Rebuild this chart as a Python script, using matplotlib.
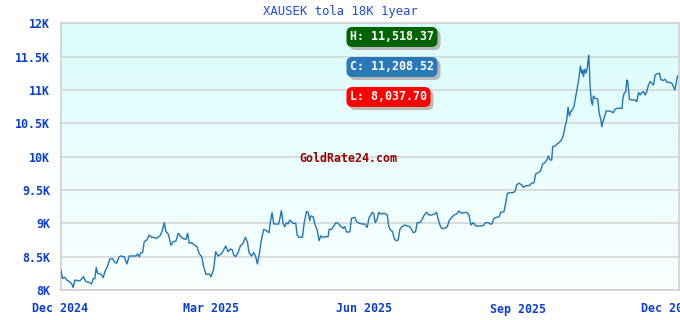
import numpy as np
import matplotlib
matplotlib.use("Agg")
import matplotlib.pyplot as plt

# jours depuis le 1er dec 2024
days = [0.2, 1.2, 2.6, 3.8, 5.2, 6.6, 7.6, 8.6, 10.2, 11.8, 13.8, 15.2, 17.2, 18.6, 19.6, 20.6,
        21.4, 22.2, 24.2, 25.6, 26.6, 28.2, 29.6, 31.2, 32.2, 33.6, 35.2, 36.2, 38.2, 39.8, 41.2,
        43.2, 45.2, 46.2, 47.2, 48.2, 49.2, 50.2, 51.8, 53.2, 54.6, 56.2, 57.2, 58.2, 59.6, 60.8,
        62.2, 63.2, 64.6, 66.2, 67.6, 69.2, 70.6, 71.8, 73.2, 75.2, 76.2, 77.2, 78.6, 80.2, 81.8,
        83.2, 84.6, 85.8, 87.2, 89.2, 90.2, 91.8, 93.0, 94.4, 96.4, 97.8, 99.0, 100.4, 101.8,
        103.0, 103.8, 105.0, 106.4, 107.8, 109.4, 110.8, 112.0, 113.0, 114.4, 115.8, 117.0, 118.0,
        119.4, 120.4, 121.8, 123.4, 125.0, 125.8, 126.8, 127.8, 129.4, 130.8, 131.8, 132.4, 133.4,
        134.4, 135.4, 136.4, 137.4, 138.4, 139.4, 141.0, 141.8, 143.0, 145.0, 146.0, 147.4, 148.4,
        149.4, 150.0, 151.4, 152.6, 153.8, 155.0, 156.0, 157.4, 159.0, 160.4, 161.0, 162.4, 163.8,
        165.0, 166.4, 167.8, 169.4, 170.4, 171.4, 173.4, 174.4, 176.4, 177.4, 179.0, 181.0, 182.4,
        183.8, 185.0, 185.4, 186.8, 187.8, 188.6, 189.8, 190.8, 192.0, 194.4, 195.8, 196.8, 197.8,
        199.0, 200.0, 201.0, 202.4, 203.4, 204.8, 206.4, 207.8, 209.4, 210.4, 211.4, 212.8, 213.8,
        215.4, 216.8, 218.0, 219.4, 220.8, 222.4, 224.4, 225.4, 226.4, 227.4, 228.4, 230.4, 231.8,
        233.0, 234.4, 236.0, 237.4, 238.8, 240.4, 241.8, 243.4, 244.8, 246.0, 247.4, 249.0, 251.4,
        253.4, 254.8, 256.4, 257.8, 258.8, 259.8, 261.4, 263.0, 263.8, 265.8, 266.8, 267.8, 269.4,
        271.0, 272.4, 273.4, 274.6, 275.0, 276.4, 277.4, 279.0, 280.8, 282.4, 283.8, 284.8, 286.4,
        287.8, 289.0, 290.4, 291.4, 292.4, 293.4, 294.4, 295.0, 296.4, 297.8, 299.4, 300.6, 301.4,
        302.4, 303.4, 304.2, 305.0, 305.8, 307.0, 307.8, 308.8, 309.4, 310.2, 310.8, 311.6, 312.4,
        313.0, 313.4, 314.2, 315.0, 315.8, 316.2, 316.6, 317.0, 317.4, 318.2, 318.8, 319.4, 320.4,
        322.0, 322.8, 323.8, 324.4, 325.4, 326.4, 327.0, 328.4, 330.0, 331.4, 332.4, 333.4, 335.0,
        336.6, 337.0, 337.8, 338.8, 339.4, 340.0, 341.0, 342.4, 344.4, 345.4, 346.4, 347.4, 348.4,
        349.4, 350.4, 351.4, 352.4, 353.4, 354.4, 355.4, 356.4, 357.4, 359.0, 359.8, 361.0, 362.4,
        363.4, 364.8, 366.4, 367.4, 368.2, 369.0, 369.8]
prices = [8300, 8175, 8190, 8150, 8125, 8100, 8038, 8150, 8140, 8140, 8200, 8125, 8115, 8090, 8170, 8170,
          8340, 8250, 8240, 8185, 8275, 8360, 8465, 8470, 8425, 8400, 8500, 8510, 8500, 8390, 8510,
          8510, 8510, 8540, 8500, 8560, 8560, 8725, 8750, 8825, 8790, 8790, 8770, 8790, 8810, 8875,
          9010, 8875, 8840, 8675, 8725, 8735, 8850, 8810, 8775, 8760, 8850, 8700, 8710, 8675, 8650,
          8540, 8500, 8350, 8235, 8240, 8200, 8310, 8575, 8510, 8540, 8600, 8660, 8575, 8615,
          8600, 8525, 8500, 8560, 8660, 8700, 8790, 8725, 8560, 8510, 8560, 8500, 8390,
          8575, 8750, 8910, 8890, 8860, 9025, 9160, 8990, 8990, 8990, 9110, 9190, 9000,
          8950, 9010, 8990, 9050, 9025, 9000, 9000, 8825, 8790, 8790, 9000, 9175, 9170,
          9040, 9110, 9100, 8975, 8900, 8740, 8810, 8790, 8800, 8800, 8910, 8910, 8960,
          9010, 9000, 8960, 8925, 8950, 8870, 8870, 9075, 9090, 9025, 9000, 8990, 8990,
          8940, 9090, 9100, 9165, 9140, 9010, 9060, 9165, 9140, 9150, 9125, 8950, 8900,
          8875, 8775, 8740, 8750, 8910, 8950, 8975, 8960, 8950, 8910, 8860, 8875, 9010,
          9010, 9060, 9125, 9165, 9125, 9125, 9140, 9165, 9060, 8975, 8925, 8925, 8950,
          9040, 9090, 9125, 9140, 9185, 9150, 9160, 9165, 9125, 8975, 9010, 8960, 8960,
          8965, 9010, 9010, 8985, 9000, 9075, 9090, 9100, 9165, 9175, 9300, 9450, 9460,
          9460, 9475, 9575, 9600, 9600, 9575, 9540, 9565, 9565, 9600, 9610, 9740, 9760,
          9790, 9890, 9910, 9950, 10010, 9950, 9950, 10150, 10160, 10190, 10225, 10265, 10325,
          10450, 10550, 10740, 10610, 10675, 10710, 10760, 10900, 10990, 11100, 11190, 11360, 11250,
          11300, 11200, 11310, 11250, 11350, 11450, 11518, 11325, 11060, 10825, 10775, 10910, 10875,
          10865, 10660, 10560, 10450, 10550, 10625, 10685, 10685, 10675, 10660, 10710, 10725, 10725,
          10725, 10860, 10950, 10975, 11150, 11125, 10860, 10850, 10850, 10825, 10960, 10925, 10960,
          10975, 10925, 10975, 11075, 11125, 11100, 11075, 11225, 11240, 11250, 11160, 11140, 11160,
          11115, 11115, 11100, 11050, 11000, 11100, 11208.5]

tick_days = [0, 90, 182, 274, 365]
tick_labels = ['Dec 2024', 'Mar 2025', 'Jun 2025', 'Sep 2025', 'Dec 2025']
y_ticks = [8000, 8500, 9000, 9500, 10000, 10500, 11000, 11500, 12000]
y_labels = ['8K', '8.5K', '9K', '9.5K', '10K', '10.5K', '11K', '11.5K', '12K']

stats = [('H: 11,518.37', '#006400'), ('C: 11,208.52', '#2a7ab8'), ('L: 8,037.70', '#ff0000')]

blue = '#0b3fd4'
mono = 'DejaVu Sans Mono'

fig = plt.figure(figsize=(6.8, 3.2), dpi=100)
ax = fig.add_axes([60.5 / 680, 1 - 290 / 320, 618 / 680, 266.7 / 320])

xmin, xmax = 0, 370.4
ymin, ymax = 8000, 12000

# fond dégradé cyan -> blanc
grad = np.linspace(0, 1, 256).reshape(-1, 1)
top = np.array([219, 252, 252]) / 255
bot = np.array([250, 255, 255]) / 255
img = top + (bot - top) * grad[:, :, None]
ax.imshow(img, extent=[xmin, xmax, ymin, ymax], aspect='auto', origin='upper', zorder=0)

for yt in y_ticks:
    ax.axhline(yt, color='#d6d6d6', lw=1.2, zorder=1)

ax.plot(days, prices, color='#1f77b4', lw=1.0, zorder=3)

ax.set_xlim(xmin, xmax)
ax.set_ylim(ymin, ymax)
ax.set_xticks(tick_days)
ax.set_xticklabels(tick_labels)
ax.set_yticks(y_ticks)
ax.set_yticklabels(y_labels)
ax.tick_params(length=0, colors=blue, labelsize=8.4)
ax.tick_params(axis='y', pad=7.5)
ax.tick_params(axis='x', pad=9)
for lab in ax.get_xticklabels() + ax.get_yticklabels():
    lab.set_fontfamily(mono)
    lab.set_fontweight('bold')
for sp in ax.spines.values():
    sp.set_color('#d0d0d0')
    sp.set_linewidth(1.2)

fig.text(340 / 680, 1 - 11 / 320, 'XAUSEK tola 18K 1year', ha='center', va='center',
         color='#2050d0', fontsize=8.8, family=mono)

fig.text(348 / 680, 1 - 158 / 320, 'GoldRate24.com', ha='center', va='center',
         color='#990000', fontsize=8.4, family=mono, fontweight='bold')

# boites H / C / L avec ombre grise
for i, (txt, col) in enumerate(stats):
    yc = 37 + 30 * i
    fig.text((350 + 3) / 680, 1 - (yc + 3) / 320, txt, ha='left', va='center', color='#b8b8b8',
             fontsize=8.4, family=mono, fontweight='bold',
             bbox=dict(boxstyle='round,pad=0.3,rounding_size=0.5', fc='#b8b8b8', ec='none'))
    fig.text(350 / 680, 1 - yc / 320, txt, ha='left', va='center', color='white',
             fontsize=8.4, family=mono, fontweight='bold',
             bbox=dict(boxstyle='round,pad=0.3,rounding_size=0.5', fc=col, ec='none'))

fig.savefig('out.png', dpi=100)
